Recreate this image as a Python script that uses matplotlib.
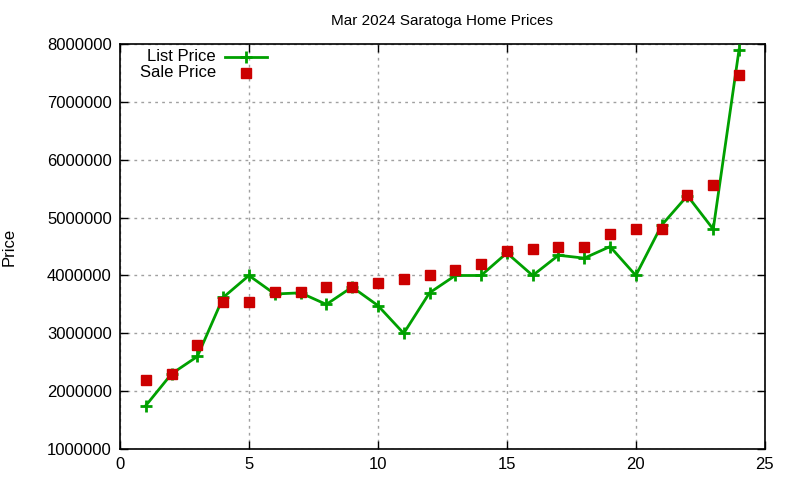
import matplotlib
matplotlib.use("Agg")
import matplotlib.pyplot as plt

plt.rcParams["font.family"] = ["Liberation Sans", "DejaVu Sans"]

# house index for the month
homes = list(range(1, 25))
list_price = [1750000, 2300000, 2600000, 3620000, 4000000, 3680000, 3700000, 3500000,
              3800000, 3480000, 3000000, 3700000, 4000000, 4000000, 4390000, 4000000,
              4350000, 4300000, 4500000, 4000000, 4870000, 5380000, 4800000, 7900000]
sale_price = [2200000, 2300000, 2800000, 3550000, 3550000, 3720000, 3720000, 3800000,
              3800000, 3870000, 3940000, 4000000, 4100000, 4200000, 4420000, 4460000,
              4490000, 4500000, 4710000, 4800000, 4800000, 5400000, 5570000, 7460000]

x_ticks = [0, 5, 10, 15, 20, 25]
y_ticks = [1000000, 2000000, 3000000, 4000000, 5000000, 6000000, 7000000, 8000000]

green = "#00a000"
red = "#cc0000"

fig = plt.figure(figsize=(8, 4.8), dpi=100)
ax = fig.add_axes([0.15, 0.0646, 0.806, 0.8434])

ax.plot(homes, list_price, color=green, lw=2, marker="+", ms=9, mew=2, zorder=3)
ax.plot(homes, sale_price, ls="none", marker="s", ms=6.5, color=red, zorder=4)

ax.set_xlim(0, 25)
ax.set_ylim(1000000, 8000000)
ax.set_xticks(x_ticks)
ax.set_yticks(y_ticks)
ax.set_xticklabels([str(t) for t in x_ticks])
ax.set_yticklabels([str(t) for t in y_ticks])
ax.tick_params(direction="in", length=6, width=1, labelsize=12,
               top=True, right=True, pad=6)
ax.grid(True, color="#a0a0a0", ls=(0, (2, 3)), lw=1)
for s in ax.spines.values():
    s.set_linewidth(1.2)

ax.set_title("Mar 2024 Saratoga Home Prices", fontsize=11, pad=14)
ax.set_ylabel("Price", fontsize=12, labelpad=22)

# gnuplot-style key: right-aligned text, sample to the right
tr = ax.transAxes
ax.text(0.149, 0.969, "List Price", transform=tr, ha="right", va="center", fontsize=12)
ax.text(0.149, 0.929, "Sale Price", transform=tr, ha="right", va="center", fontsize=12)
ax.plot([0.163, 0.228], [0.969, 0.969], transform=tr, color=green, lw=2, clip_on=False)
ax.plot([0.1955], [0.969], transform=tr, color=green, marker="+", ms=9, mew=2, clip_on=False)
ax.plot([0.1955], [0.929], transform=tr, color=red, marker="s", ms=6.5, ls="none", clip_on=False)

fig.savefig("out.png", dpi=100)
